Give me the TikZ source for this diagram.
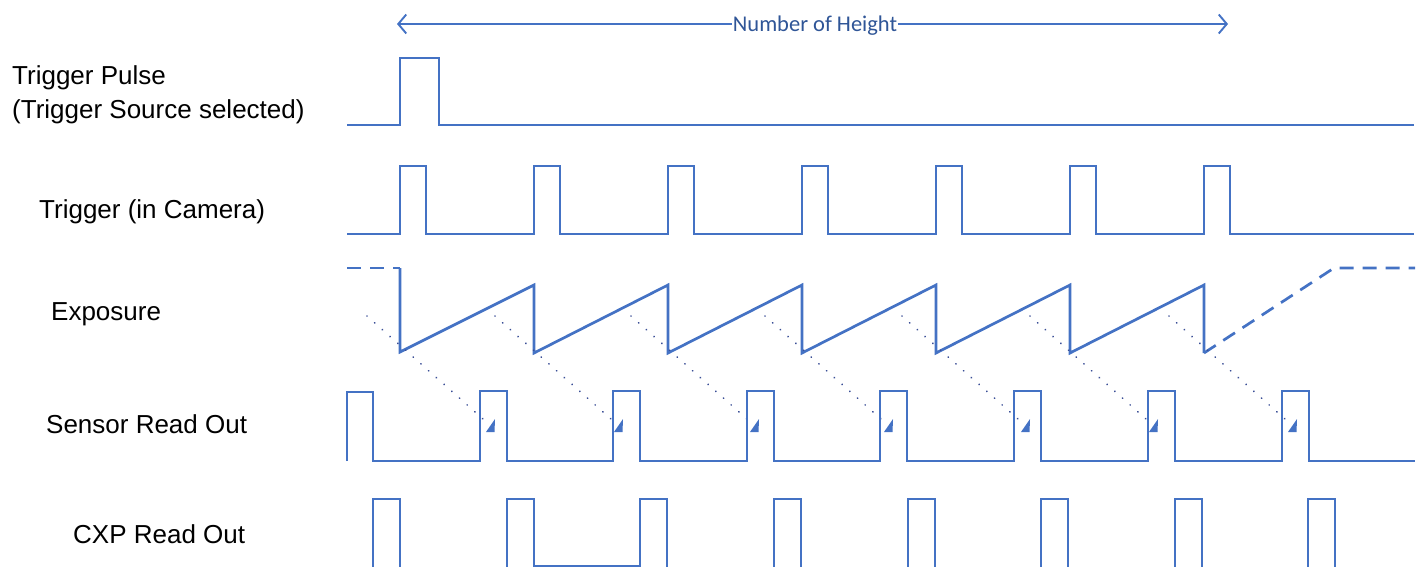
\documentclass[tikz,border=0pt]{standalone}
\usepackage{fontspec}
\setmainfont{Liberation Sans}
\newfontfamily\calib{Carlito}
\usetikzlibrary{arrows.meta}
\definecolor{wave}{HTML}{4472C4}
\definecolor{navy}{HTML}{2F5597}
\definecolor{dotc}{HTML}{3A4E96}
\tikzset{
  wavestyle/.style={draw=wave, line width=2.7pt, line join=miter},
  dashwave/.style={wavestyle, dash pattern=on 14pt off 9pt},
  dotline/.style={draw=dotc, line width=2pt, line cap=round, dash pattern=on 0.01pt off 10.3pt},
  lbl/.style={anchor=base west, inner sep=0pt, font=\fontsize{26}{30}\selectfont},
  headtri/.style={fill=wave, draw=none}
}
\begin{document}
\begin{tikzpicture}[x=1pt,y=-1pt]
\useasboundingbox (0,0) rectangle (1424,567);
% labels
\node[lbl] (l1) at (12,85) {Trigger Pulse};
\node[lbl] (l2) at (12,119) {(Trigger Source selected)};
\node[lbl] (l3) at (39,218) {Trigger (in Camera)};
\node[lbl] (l4) at (51,320) {Exposure};
\node[lbl] (l5) at (46,433) {Sensor Read Out};
\node[lbl] (l6) at (73,543) {CXP Read Out};
% top arrow
\coordinate (aL) at (397,24);
\coordinate (aR) at (1228,24);
\draw[draw=wave, line width=2.2pt, {Straight Barb[length=8pt,width=19pt,line width=1.9pt]}-{Straight Barb[length=8pt,width=19pt,line width=1.9pt]}] (aL) -- (aR);
\node[fill=white, inner sep=1pt, text=navy, font=\calib\fontsize{22.5}{26}\selectfont, anchor=base] (nh) at (815,32) {Number of Height};
% trigger pulse
\draw[wavestyle] (347,125) -- (400,125) -- (400,58) -- (439,58) -- (439,125) -- (1414,125);
% trigger in camera
\draw[wavestyle] (347,234)
  \foreach \x in {400,534,668,802,936,1070,1204} { -- (\x,234) -- (\x,166) -- (\x+26,166) -- (\x+26,234) }
  -- (1414,234);
% exposure
\draw[dashwave] (347,268) -- (400,268);
\draw[wavestyle] (400,268) -- (400,352)
  \foreach \x in {534,668,802,936,1070,1204} { -- (\x,285) -- (\x,353) };
\draw[dashwave] (1204,353) -- (1334,268) -- (1415,268);
% dotted lines and heads
\foreach \t in {495,623,759,893,1030,1158,1297} {
  \draw[dotline] (\t-128,316) -- (\t-12,419);
  \fill[headtri] (\t,419) -- (\t-9,432) -- (\t-0.5,432) -- cycle;
}
% sensor read out
\draw[wavestyle] (347,461) -- (347,392) -- (373,392) -- (373,461)
  \foreach \x in {480,613,747,880,1014,1148,1282} { -- (\x,461) -- (\x,391) -- (\x+27,391) -- (\x+27,461) }
  -- (1415,461);
% CXP read out
\foreach \x in {373,507,640,774,908,1041,1175,1308} {
  \draw[wavestyle] (\x,570) -- (\x,499) -- (\x+27,499) -- (\x+27,570);
}
\draw[wavestyle] (534,566) -- (640,566);
\end{tikzpicture}
\end{document}
